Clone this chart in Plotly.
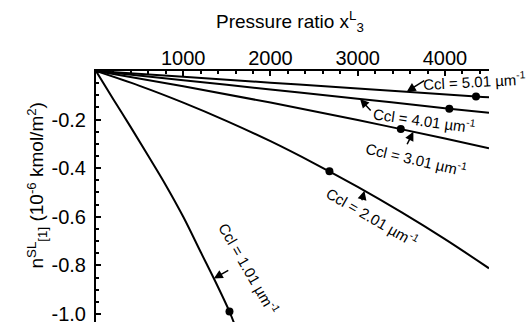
import plotly.graph_objects as go

# Data (x: pressure ratio, y: n^SL_[1] in 1e-6 kmol/m^2)
x_c1 = [0, 200, 400, 600, 800, 1000, 1200, 1400, 1530, 1580]
y_c1 = [0, -0.117, -0.232, -0.35, -0.47, -0.60, -0.745, -0.89, -0.99, -1.035]
x_c2 = [0, 500, 1000, 1500, 2000, 2500, 3000, 3500, 4000, 4505]
y_c2 = [0, -0.061, -0.130, -0.206, -0.289, -0.380, -0.477, -0.581, -0.692, -0.812]
x_c3 = [0, 1000, 2000, 3000, 4000, 4505]
y_c3 = [0, -0.063, -0.130, -0.202, -0.278, -0.318]
x_c4 = [0, 1000, 2000, 3000, 4050, 4505]
y_c4 = [0, -0.038, -0.076, -0.114, -0.155, -0.172]
x_c5 = [0, 1000, 2000, 3000, 4356, 4505]
y_c5 = [0, -0.024, -0.048, -0.072, -0.105, -0.108]

# Marked points (dots)
dot_x = [1530, 2676, 3494, 4050, 4356]
dot_y = [-0.99, -0.413, -0.239, -0.155, -0.105]

labels = ["Ccl = 1.01 µm<sup>-1</sup>", "Ccl = 2.01 µm<sup>-1</sup>",
          "Ccl = 3.01 µm<sup>-1</sup>", "Ccl = 4.01 µm<sup>-1</sup>",
          "Ccl = 5.01 µm<sup>-1</sup>"]
label_x = [1760, 3170, 3677, 3760, 4340]
label_y = [-0.812, -0.600, -0.359, -0.198, -0.040]
label_angle = [60, 30, 13, 8, -3]
arrow_x = [1350, 3077, 3638, 3027, 3562]
arrow_y = [-0.854, -0.493, -0.250, -0.115, -0.085]
arrow_ax = [16, -3, -7, 12, 19]
arrow_ay = [-9, 11, 14, 13, -12]

x_ticks = [1000, 2000, 3000, 4000]
y_ticks = [-0.2, -0.4, -0.6, -0.8, -1.0]
y_ticktext = ["-0.2", "-0.4", "-0.6", "-0.8", "-1.0"]

FONT = "Liberation Sans, Arial, sans-serif"

fig = go.Figure()
for xs, ys in [(x_c1, y_c1), (x_c2, y_c2), (x_c3, y_c3), (x_c4, y_c4), (x_c5, y_c5)]:
    fig.add_trace(go.Scatter(x=xs, y=ys, mode="lines", line=dict(color="black", width=2, shape="spline"),
                             showlegend=False, hoverinfo="skip", cliponaxis=True))
fig.add_trace(go.Scatter(x=dot_x, y=dot_y, mode="markers", marker=dict(color="black", size=8),
                         showlegend=False, hoverinfo="skip", cliponaxis=False))

for t, lx, ly, ang in zip(labels, label_x, label_y, label_angle):
    fig.add_annotation(x=lx, y=ly, text=t, showarrow=False, textangle=ang,
                       font=dict(size=15, color="black", family=FONT))
for hx, hy, ax, ay in zip(arrow_x, arrow_y, arrow_ax, arrow_ay):
    fig.add_annotation(x=hx, y=hy, ax=ax, ay=ay, text="", showarrow=True,
                       arrowhead=2, arrowsize=1.2, arrowwidth=1.5, arrowcolor="black")

fig.add_annotation(xref="paper", yref="paper", x=(290 - 96) / 393, y=1 + (71 - 6) / 251,
                   text="Pressure ratio x<sup>L</sup><sub>3</sub>", showarrow=False,
                   font=dict(size=19, color="black", family=FONT))
fig.add_annotation(xref="paper", yref="paper", x=(21 - 96) / 393, y=(322 - 186) / 251,
                   text="n<sup>SL</sup><sub>[1]</sub>&nbsp;(10<sup>-6</sup> kmol/m<sup>2</sup>)",
                   textangle=-90, showarrow=False,
                   font=dict(size=19, color="black", family=FONT))

fig.update_xaxes(range=[0, 4505], side="top", showline=True, linecolor="black", linewidth=2,
                 showgrid=False, zeroline=False, ticks="inside", ticklen=5, tickwidth=1.5,
                 tickcolor="black", tickvals=x_ticks, ticklabelstandoff=-4, automargin=False,
                 ticklabeloverflow="allow",
                 minor=dict(dtick=200, tick0=0, ticks="inside", ticklen=3, tickcolor="black"),
                 tickfont=dict(size=20, color="black", family=FONT))
fig.update_yaxes(range=[-1.033, 0], showline=True, linecolor="black", linewidth=2,
                 showgrid=False, zeroline=False, ticks="inside", ticklen=5, tickwidth=1.5,
                 tickcolor="black", tickvals=y_ticks, ticktext=y_ticktext, ticklabelstandoff=4,
                 automargin=False, ticklabeloverflow="allow",
                 minor=dict(dtick=0.05, tick0=0, ticks="inside", ticklen=3, tickcolor="black"),
                 tickfont=dict(size=20, color="black", family=FONT))

fig.update_layout(width=529, height=322, margin=dict(l=96, r=40, t=71, b=0, autoexpand=False),
                  plot_bgcolor="white", paper_bgcolor="white")
fig.write_html("out.html", config={"displayModeBar": False},
               post_script="document.body.style.margin='0px';document.body.style.padding='0px';")
